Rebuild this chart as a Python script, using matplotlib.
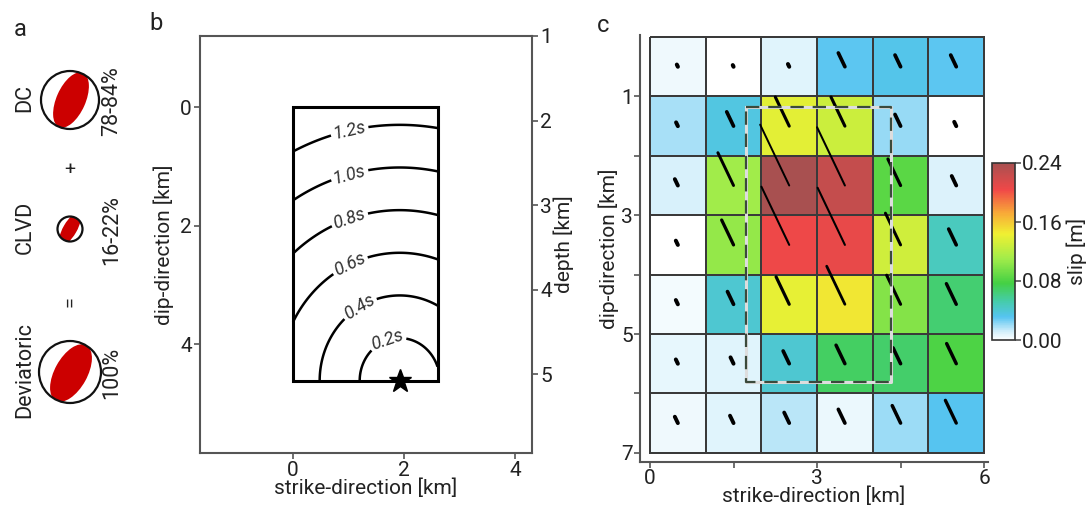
import matplotlib

matplotlib.use("Agg")

import matplotlib.pyplot as plt
import numpy as np
from matplotlib.colors import LinearSegmentedColormap
from matplotlib.patches import Circle, Ellipse, Rectangle

plt.rcParams["font.family"] = ["Roboto", "DejaVu Sans"]
plt.rcParams["font.size"] = 15

# ---- panel a: moment tensor decomposition
mt_names = ["DC", "CLVD", "Deviatoric"]
mt_share = ["78-84%", "16-22%", "100%"]
mt_ops = ["+", "="]

# ---- panel b: rupture front on the fault plane
fault_strike_len = 2.6   # km
fault_dip_len = 4.62     # km
hypo_x, hypo_d = 1.92, 4.62
v_rupture = 3.6          # km/s
t_levels = [0.2, 0.4, 0.6, 0.8, 1.0, 1.2]
t_label_pos = [(1.73, 4.02), (1.17, 3.34), (1.03, 2.67), (1.03, 1.92),
               (1.03, 1.18), (1.02, 0.41)]
depth_top = 1.84         # depth [km] of dip-direction 0
depth_per_dip = 0.70

# ---- panel c: slip model (rows top->bottom, cols left->right)
slip = np.array([
    [0.004, 0.000, 0.008, 0.030, 0.033, 0.030],
    [0.018, 0.036, 0.138, 0.128, 0.021, 0.000],
    [0.010, 0.110, 0.240, 0.225, 0.085, 0.009],
    [0.000, 0.105, 0.205, 0.208, 0.130, 0.046],
    [0.003, 0.041, 0.140, 0.148, 0.100, 0.066],
    [0.006, 0.008, 0.041, 0.070, 0.068, 0.080],
    [0.004, 0.008, 0.015, 0.005, 0.020, 0.031],
])
rake_len = np.array([
    [0.04, 0.03, 0.05, 0.26, 0.22, 0.22],
    [0.07, 0.27, 0.55, 0.55, 0.22, 0.08],
    [0.12, 0.62, 1.15, 1.10, 0.50, 0.18],
    [0.08, 0.47, 1.10, 1.08, 0.60, 0.30],
    [0.08, 0.24, 0.52, 0.72, 0.55, 0.39],
    [0.08, 0.12, 0.24, 0.35, 0.30, 0.38],
    [0.12, 0.14, 0.20, 0.26, 0.33, 0.43],
])
rake_deg = 63
fault_box_c = (1.72, 4.33, 1.18, 5.81)   # x0, x1, y0, y1 [km]
cb_ticks = [0.00, 0.08, 0.16, 0.24]

spine_col = "#555555"
text_col = "#222222"

fig = plt.figure(figsize=(10.86, 5.07), dpi=100)

# ================= panel a (pixel-like coordinates)
ax_a = fig.add_axes([0, 0, 140 / 1086, 1])
ax_a.set_xlim(0, 140)
ax_a.set_ylim(507, 0)
ax_a.set_aspect("equal")
ax_a.axis("off")

ball_y = [100, 229, 372]
ball_r = [29, 12.5, 31]
# lens: (length, width, angle, dx, dy) relative to radius
lens = [(2.04, 1.0, -66, 1, 0), (3.0, 1.1, -60, 0, 0), (2.04, 1.05, -61, 1, 1)]
for name, share, y, r, (ll, lw_, ang, ox, oy) in zip(mt_names, mt_share, ball_y, ball_r, lens):
    circ = Circle((70, y), r, facecolor="white", edgecolor="none", zorder=2)
    ax_a.add_patch(circ)
    el = Ellipse((70 + ox, y + oy), ll * r, lw_ * r, angle=ang, facecolor="#cc0000",
                 edgecolor="none", zorder=3)
    ax_a.add_patch(el)
    el.set_clip_path(circ)
    ax_a.add_patch(Circle((70, y), r, facecolor="none", edgecolor="#111111", lw=1.6, zorder=4))
    ax_a.text(25, y - 2, name, rotation=90, ha="center", va="center", fontsize=15.5,
              color=text_col)
    ax_a.text(112, y + 1, share, rotation=90, ha="center", va="center", fontsize=15.5,
              color=text_col)
for op, y in zip(mt_ops, [170, 302]):
    ax_a.text(70, y, op, rotation=0 if op == "+" else 90, ha="center", va="center",
              fontsize=14, color=text_col)

fig.text(20 / 1086, 1 - 30 / 507, "a", ha="center", va="center", fontsize=17, color=text_col)
fig.text(156 / 1086, 1 - 24 / 507, "b", ha="center", va="center", fontsize=17, color=text_col)
fig.text(603 / 1086, 1 - 26 / 507, "c", ha="center", va="center", fontsize=17, color=text_col)

# ================= panel b
ax_b = fig.add_axes([200 / 1086, 1 - 453 / 507, 332 / 1086, 417 / 507])
ax_b.set_xlim(-1.673, 4.30)
ax_b.set_ylim(5.84, -1.2)
gx = np.linspace(0, fault_strike_len, 400)
gy = np.linspace(0, fault_dip_len, 600)
X, Y = np.meshgrid(gx, gy)
T = np.hypot(X - hypo_x, Y - hypo_d) / v_rupture
cs = ax_b.contour(X, Y, T, levels=t_levels, colors="black", linewidths=1.8)
labels = ax_b.clabel(cs, inline=True, inline_spacing=2, manual=t_label_pos,
                     fmt=lambda v: f"{v:.1f}s", fontsize=13)
for t in labels:
    t.set_fontstyle("italic")
    t.set_color("#333333")
ax_b.add_patch(Rectangle((0, 0), fault_strike_len, fault_dip_len, fill=False,
                         lw=2.2, ec="black", zorder=3))
ax_b.plot(hypo_x, hypo_d, marker="*", ms=17, color="black", clip_on=False, zorder=4)
ax_b.set_xticks([0, 2, 4])
ax_b.set_yticks([0, 2, 4])
ax_b.set_xlabel("strike-direction [km]", labelpad=-1, color=text_col)
ax_b.set_ylabel("dip-direction [km]", labelpad=4, color=text_col)
ax_b.tick_params(direction="out", length=4, width=1.2, color=spine_col,
                 labelcolor=text_col, labelsize=15, pad=2)
for s in ax_b.spines.values():
    s.set_color(spine_col)
    s.set_linewidth(1.5)
ax_b.spines["right"].set_visible(False)
sec = ax_b.secondary_yaxis(
    "right",
    functions=(lambda d: depth_top + depth_per_dip * d,
               lambda z: (z - depth_top) / depth_per_dip),
)
sec.set_yticks([1, 2, 3, 4, 5])
sec.tick_params(direction="out", length=4, width=1.2, color=spine_col,
                labelcolor=text_col, labelsize=15, pad=2)
sec.spines["right"].set_color(spine_col)
sec.spines["right"].set_linewidth(1.5)
sec.set_ylabel("depth [km]", labelpad=1, color=text_col)

# ================= panel c
slip_cmap = LinearSegmentedColormap.from_list("slip", [
    (0.00, "#ffffff"), (0.05, "#cdedfa"), (0.13, "#55c4f0"), (0.22, "#45cca8"),
    (0.32, "#44d044"), (0.46, "#a2ec4a"), (0.60, "#f0f032"), (0.72, "#f8a838"),
    (0.85, "#f04848"), (1.00, "#a85050"),
])
ax_c = fig.add_axes([640 / 1086, 1 - 462 / 507, 348 / 1086, 427 / 507])
nrow, ncol = slip.shape
mesh = ax_c.pcolormesh(np.arange(ncol + 1), np.arange(nrow + 1), slip, cmap=slip_cmap,
                       vmin=0, vmax=0.24, edgecolors="#3a3a3a", linewidth=1.3)
ax_c.set_xlim(-0.18, 6.07)
ax_c.set_ylim(7.155, -0.034)

cx, cy = np.meshgrid(np.arange(ncol) + 0.5, np.arange(nrow) + 0.5)
a = np.deg2rad(rake_deg)
for x0, y0, L in zip(cx.ravel(), cy.ravel(), rake_len.ravel()):
    ax_c.plot([x0 - L * np.cos(a), x0], [y0 - L * np.sin(a), y0], color="black",
              lw=max(1.4, 3.0 - 1.4 * L), solid_capstyle="round", zorder=4)

bx0, bx1, by0, by1 = fault_box_c
ax_c.plot([bx0, bx1, bx1, bx0, bx0], [by0, by0, by1, by1, by0], color="#dddddd",
          lw=2.2, zorder=5)
ax_c.plot([bx0, bx1, bx1, bx0, bx0], [by0, by0, by1, by1, by0], color="#3b4a3b",
          lw=1.6, dashes=(6, 4), zorder=6)

ax_c.set_xticks([0, 3, 6])
ax_c.set_xticks([1.5, 4.5], minor=True)
ax_c.set_yticks([1, 3, 5, 7])
ax_c.set_yticks([2, 4, 6], minor=True)
ax_c.tick_params(which="both", direction="out", length=4, width=1.2, color=spine_col,
                 labelcolor=text_col, labelsize=15, pad=1)
for side in ["top", "right"]:
    ax_c.spines[side].set_visible(False)
for side in ["left", "bottom"]:
    ax_c.spines[side].set_color(spine_col)
    ax_c.spines[side].set_linewidth(1.5)
ax_c.set_xlabel("strike-direction [km]", labelpad=-1, color=text_col)
ax_c.set_ylabel("dip-direction [km]", labelpad=2, color=text_col)

cax = fig.add_axes([992 / 1086, 1 - 340 / 507, 23 / 1086, 177 / 507])
cb = fig.colorbar(mesh, cax=cax, ticks=cb_ticks, format="%.2f")
cb.outline.set_edgecolor("#333333")
cb.outline.set_linewidth(1.2)
cb.ax.tick_params(direction="out", length=4, width=1.2, color=spine_col,
                  labelcolor=text_col, labelsize=15, pad=1)
cb.set_label("slip [m]", color=text_col, labelpad=3)

fig.savefig("out.png", dpi=100)
